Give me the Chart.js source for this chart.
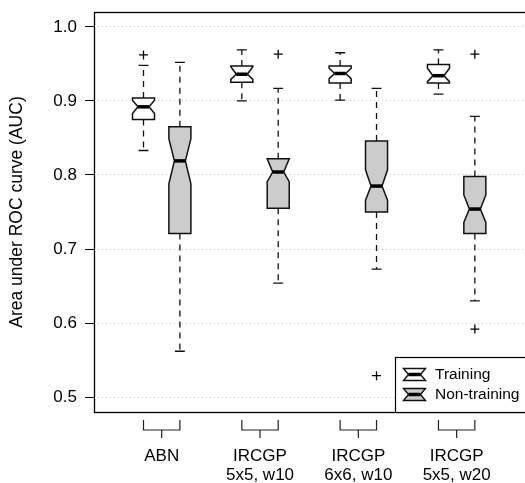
<!DOCTYPE html>
<html>
<head>
<meta charset="utf-8">
<style>
  html, body { margin: 0; padding: 0; background: #fff; overflow: hidden; }
</style>
<script src="https://cdn.jsdelivr.net/npm/chart.js@4.4.1/dist/chart.umd.min.js"></script>
</head>
<body>
<canvas id="auc" width="560" height="483"></canvas>
<script>
const groups = [["ABN"], ["IRCGP", "5x5, w10"], ["IRCGP", "6x6, w10"], ["IRCGP", "5x5, w20"]];
const seriesNames = ["Training", "Non-training"];
const yTicks = [0.5, 0.6, 0.7, 0.8, 0.9, 1.0];

// training runs, one value per group
const trainLow = [0.833, 0.900, 0.901, 0.909];
const trainQ1 = [0.875, 0.925, 0.924, 0.924];
const trainNotchLo = [0.883, 0.929, 0.930, 0.926];
const trainMedian = [0.892, 0.936, 0.937, 0.934];
const trainNotchHi = [0.901, 0.946, 0.944, 0.944];
const trainQ3 = [0.904, 0.947, 0.947, 0.949];
const trainHigh = [0.948, 0.969, 0.965, 0.969];
const trainOut = [[0.962], [], [], []];

// non-training runs
const testLow = [0.562, 0.654, 0.673, 0.630];
const testQ1 = [0.721, 0.755, 0.750, 0.721];
const testNotchLo = [0.788, 0.791, 0.766, 0.736];
const testMedian = [0.819, 0.804, 0.785, 0.754];
const testNotchHi = [0.849, 0.822, 0.807, 0.773];
const testQ3 = [0.865, 0.822, 0.846, 0.798];
const testHigh = [0.952, 0.917, 0.917, 0.879];
const testOut = [[], [0.963], [0.529], [0.963, 0.592]];

const FONT = "'Liberation Sans', Arial, Helvetica, sans-serif";
const fills = ["#ffffff", "#cccccc"];
const shift = [-0.185, 0.185];   // box offset from group centre
const boxHalf = 0.112;           // half box width, x units

const series = [
  { low: trainLow, q1: trainQ1, nlo: trainNotchLo, med: trainMedian, nhi: trainNotchHi, q3: trainQ3, high: trainHigh, out: trainOut },
  { low: testLow, q1: testQ1, nlo: testNotchLo, med: testMedian, nhi: testNotchHi, q3: testQ3, high: testHigh, out: testOut }
];

function outlierPoints(s) {
  const pts = [];
  series[s].out.forEach((list, g) => list.forEach(v => pts.push({ x: g + 1 + shift[s], y: v })));
  return pts;
}

function notchPath(ctx, x, w, inset, top, nhi, med, nlo, bottom) {
  ctx.beginPath();
  ctx.moveTo(x - w, bottom);
  ctx.lineTo(x - w, nlo);
  ctx.lineTo(x - w + inset, med);
  ctx.lineTo(x - w, nhi);
  ctx.lineTo(x - w, top);
  ctx.lineTo(x + w, top);
  ctx.lineTo(x + w, nhi);
  ctx.lineTo(x + w - inset, med);
  ctx.lineTo(x + w, nlo);
  ctx.lineTo(x + w, bottom);
  ctx.closePath();
}

const boxPlot = {
  id: "boxPlot",
  beforeDatasetsDraw(chart) {
    const ctx = chart.ctx, xs = chart.scales.x, ys = chart.scales.y;
    const w = xs.getPixelForValue(1 + boxHalf) - xs.getPixelForValue(1);
    const cap = w * 0.45;
    ctx.save();
    series.forEach((st, s) => {
      groups.forEach((_, g) => {
        const x = xs.getPixelForValue(g + 1 + shift[s]);
        const py = k => ys.getPixelForValue(st[k][g]);
        ctx.strokeStyle = "#111";
        ctx.lineWidth = 1.3;
        // whiskers
        ctx.setLineDash([6, 5]);
        ctx.beginPath();
        ctx.moveTo(x, py("q3")); ctx.lineTo(x, py("high"));
        ctx.moveTo(x, py("q1")); ctx.lineTo(x, py("low"));
        ctx.stroke();
        ctx.setLineDash([]);
        ctx.beginPath();
        ctx.moveTo(x - cap, py("high")); ctx.lineTo(x + cap, py("high"));
        ctx.moveTo(x - cap, py("low")); ctx.lineTo(x + cap, py("low"));
        ctx.stroke();
        // notched box
        notchPath(ctx, x, w, w / 2, py("q3"), py("nhi"), py("med"), py("nlo"), py("q1"));
        ctx.fillStyle = fills[s];
        ctx.fill();
        ctx.lineWidth = 1.5;
        ctx.stroke();
        // median
        ctx.lineWidth = 3.5;
        ctx.strokeStyle = "#000";
        ctx.beginPath();
        ctx.moveTo(x - w / 2, py("med")); ctx.lineTo(x + w / 2, py("med"));
        ctx.stroke();
      });
    });
    ctx.restore();
  },
  afterDraw(chart) {
    const ctx = chart.ctx, xs = chart.scales.x, a = chart.chartArea;
    ctx.save();
    ctx.strokeStyle = "#000";
    ctx.lineWidth = 1.3;
    ctx.strokeRect(a.left + 0.5, a.top + 0.5, a.right - a.left, a.bottom - a.top);
    // group brackets
    ctx.strokeStyle = "#222";
    ctx.lineWidth = 1.2;
    groups.forEach((_, g) => {
      const xl = xs.getPixelForValue(g + 1 + shift[0]);
      const xr = xs.getPixelForValue(g + 1 + shift[1]);
      const xm = xs.getPixelForValue(g + 1);
      const b = a.bottom;
      ctx.beginPath();
      ctx.moveTo(xl, b + 8); ctx.lineTo(xl, b + 18); ctx.lineTo(xr, b + 18); ctx.lineTo(xr, b + 8);
      ctx.moveTo(xm, b + 18); ctx.lineTo(xm, b + 26);
      ctx.stroke();
    });
    // legend
    const lx = 395.5, ly = 357.5;
    ctx.fillStyle = "#fff";
    ctx.fillRect(lx, ly, a.right - lx, a.bottom - ly);
    ctx.strokeStyle = "#000";
    ctx.lineWidth = 1.2;
    ctx.strokeRect(lx, ly, a.right - lx + 0.5, a.bottom - ly + 0.5);
    seriesNames.forEach((name, s) => {
      const ix = 403.5, iy = 368.5 + s * 20, iw = 22, ih = 12, inset = 5;
      ctx.beginPath();
      ctx.moveTo(ix, iy); ctx.lineTo(ix + iw, iy);
      ctx.lineTo(ix + iw - inset, iy + ih / 2); ctx.lineTo(ix + iw, iy + ih);
      ctx.lineTo(ix, iy + ih); ctx.lineTo(ix + inset, iy + ih / 2);
      ctx.closePath();
      ctx.fillStyle = fills[s];
      ctx.fill();
      ctx.strokeStyle = "#111";
      ctx.lineWidth = 1.4;
      ctx.stroke();
      ctx.lineWidth = 3.5;
      ctx.strokeStyle = "#000";
      ctx.beginPath();
      ctx.moveTo(ix + inset, iy + ih / 2); ctx.lineTo(ix + iw - inset, iy + ih / 2);
      ctx.stroke();
      ctx.fillStyle = "#000";
      ctx.font = "15.5px " + FONT;
      ctx.textBaseline = "middle";
      ctx.fillText(name, 435, iy + ih / 2);
    });
    ctx.restore();
  }
};

Chart.defaults.color = "#000";
Chart.defaults.font.family = FONT;

new Chart(document.getElementById("auc"), {
  type: "scatter",
  data: {
    datasets: seriesNames.map((name, s) => ({
      label: name,
      data: outlierPoints(s),
      pointStyle: "cross",
      radius: 4.5,
      borderColor: "#000",
      borderWidth: 1.3
    }))
  },
  options: {
    responsive: false,
    animation: false,
    layout: { padding: { top: 12, right: 12, left: 0, bottom: 0 } },
    plugins: { legend: { display: false }, tooltip: { enabled: false } },
    scales: {
      x: {
        type: "linear",
        min: 0.3115,
        max: 4.929,
        afterBuildTicks: sc => { sc.ticks = groups.map((_, g) => ({ value: g + 1 })); },
        afterFit: sc => { sc.height = 71; sc.paddingLeft = 0; sc.paddingRight = 0; },
        grid: { display: false, drawTicks: false },
        border: { display: false },
        ticks: {
          callback: v => groups[v - 1],
          maxRotation: 0,
          autoSkip: false,
          padding: 35,
          font: { size: 17, lineHeight: 1.12 }
        }
      },
      y: {
        min: 0.48,
        max: 1.02,
        afterBuildTicks: sc => { sc.ticks = yTicks.map(v => ({ value: v })); },
        afterFit: sc => { sc.width = 94; sc.paddingTop = 0; sc.paddingBottom = 0; },
        grid: { color: "#c4c4c4", tickColor: "#000", tickLength: 9, lineWidth: 1 },
        border: { display: false, dash: [1, 3] },
        ticks: {
          callback: v => v.toFixed(1),
          padding: 8,
          font: { size: 17 }
        },
        title: {
          display: true,
          text: "Area under ROC curve (AUC)",
          font: { size: 17.5 },
          padding: { top: 7, bottom: 0 }
        }
      }
    }
  },
  plugins: [boxPlot]
});
</script>
</body>
</html>
